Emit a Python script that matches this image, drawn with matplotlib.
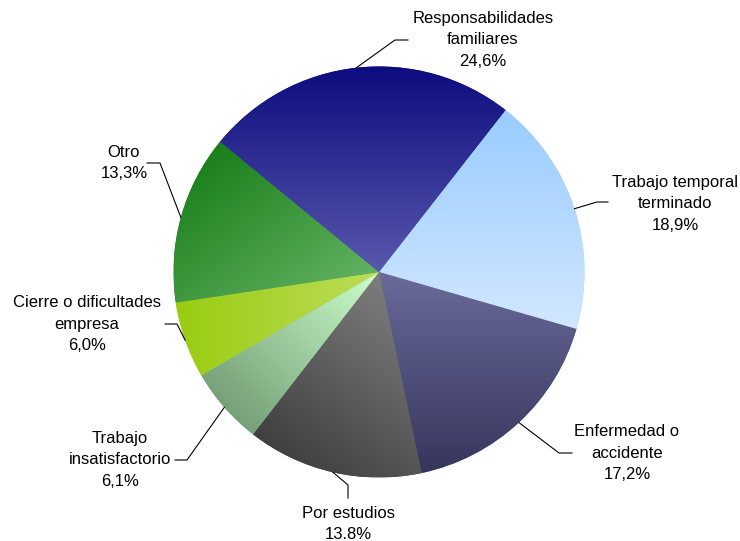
import numpy as np
import matplotlib
matplotlib.use("Agg")
import matplotlib.pyplot as plt
from matplotlib.colors import to_rgb

# ---- data (clockwise from the top-right boundary) ----
categories = ["Trabajo temporal\nterminado", "Enfermedad o\naccidente", "Por estudios",
              "Trabajo\ninsatisfactorio", "Cierre o dificultades\nempresa", "Otro",
              "Responsabilidades\nfamiliares"]
values = [18.9, 17.2, 13.8, 6.1, 6.0, 13.3, 24.6]
decimal_sep = [",", ",", ".", ",", ",", ",", ","]

# gradient colours (start, end) and gradient direction (data coords)
grad_start = ["#99CCFF", "#6A6A9C", "#404040", "#76A078", "#99CC11", "#1A7F1A", "#0A0A7E"]
grad_end = ["#D2E7FF", "#36365C", "#7E7E7E", "#CCFFCC", "#BDDD5A", "#62B262", "#5858AC"]
grad_dir = [(0, -1), (0, -1), (0.6, 0.8), (0.7, 0.7), (1, 0), (0.6, -0.8), (0, -1)]

# ---- layout (pixels of a 740x541 figure) ----
W, H = 740, 541
CX, CY, R = 379.0, 272.0, 205.5
# text centres and leader-line elbow/end points
text_pos = [(675, 204), (627, 453), (348, 524), (120, 460), (87, 324), (124, 163), (483, 40)]
elbow = [(597, 202), (559, 453), (348, 485), (187, 460), (177, 324), (160, 163), (395, 40)]
lead_end = [(608, 202), (572, 453), (348, 498), (175, 460), (165, 324), (147, 163), (408, 40)]


def px(p):
    return ((p[0] - CX) / R, (CY - p[1]) / R)


fig = plt.figure(figsize=(W / 100, H / 100), dpi=100)
ax = fig.add_axes([0, 0, 1, 1])
plt.rcParams["font.family"] = ["Liberation Sans", "DejaVu Sans"]

wedges, _ = ax.pie(values, startangle=52, counterclock=False, radius=1,
                   colors=grad_start, wedgeprops=dict(linewidth=0))

N = 300
for i, w in enumerate(wedges):
    path = w.get_path()
    ext = path.get_extents()
    xs = np.linspace(ext.x0, ext.x1, N)
    ys = np.linspace(ext.y0, ext.y1, N)
    X, Y = np.meshgrid(xs, ys)
    d = np.array(grad_dir[i], float)
    d /= np.linalg.norm(d)
    proj = X * d[0] + Y * d[1]
    vproj = path.vertices @ d
    t = np.clip((proj - vproj.min()) / (vproj.max() - vproj.min()), 0, 1)
    c0 = np.array(to_rgb(grad_start[i]))
    c1 = np.array(to_rgb(grad_end[i]))
    img = c0[None, None, :] + t[:, :, None] * (c1 - c0)[None, None, :]
    im = ax.imshow(img, extent=(ext.x0, ext.x1, ext.y0, ext.y1), origin="lower",
                   interpolation="bilinear", zorder=2)
    im.set_clip_path(w)

    # label
    mid = np.deg2rad((w.theta1 + w.theta2) / 2)
    sx, sy = np.cos(mid), np.sin(mid)
    ex, ey = px(elbow[i])
    lx, ly = px(lead_end[i])
    ax.plot([sx, ex, lx], [sy, ey, ly], color="black", lw=0.8, zorder=3,
            solid_joinstyle="miter")
    pct = f"{values[i]:.1f}".replace(".", decimal_sep[i]) + "%"
    tx, ty = px(text_pos[i])
    ax.text(tx, ty, categories[i] + "\n" + pct, ha="center", va="center",
            fontsize=12, linespacing=1.56, color="black", zorder=4)

ax.set_xlim(-CX / R, (W - CX) / R)
ax.set_ylim((CY - H) / R, CY / R)
ax.set_aspect("auto")
ax.axis("off")
fig.savefig("out.png", dpi=100, facecolor="white")
